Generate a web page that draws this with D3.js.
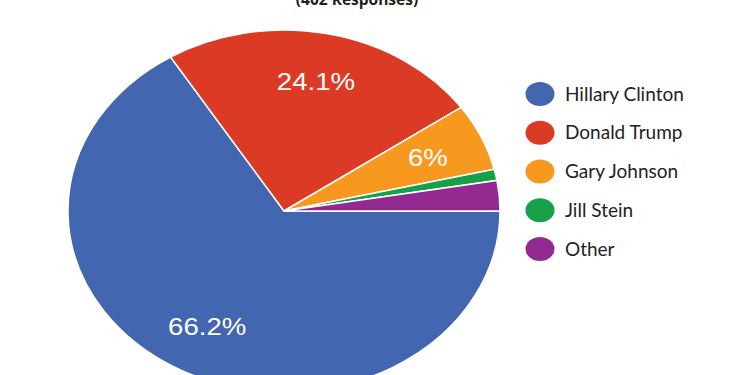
<!DOCTYPE html>
<html><head><meta charset="utf-8">
<script src="https://cdn.jsdelivr.net/npm/d3@7"></script>
<style>body{margin:0;background:#fff;} svg{display:block;}</style>
</head><body>
<svg id="chart" width="750" height="375"></svg>
<script>
const categories = ["Hillary Clinton", "Donald Trump", "Gary Johnson", "Jill Stein", "Other"];
const values = [66.2, 24.1, 6.0, 1.0, 2.7];
const labels = ["66.2%", "24.1%", "6%", "", ""];
const colors = ["#4266b0", "#db3a24", "#f7991f", "#16a04a", "#932a91"];
const titleText = "(402 Responses)";

const svg = d3.select("#chart");
const cx = 284, cy = 211, ry = 181, rx = 216;
const sx = rx / ry;

svg.append("text").attr("x", 357).attr("y", 5)
  .attr("text-anchor", "middle")
  .attr("font-family", "Open Sans, sans-serif").attr("font-weight", "bold")
  .attr("font-size", 15.5).attr("fill", "#222").text(titleText);

const pie = d3.pie().sort(null).value(d => d)
  .startAngle(Math.PI / 2).endAngle(Math.PI / 2 + 2 * Math.PI);
const arcs = pie(values);
const arc = d3.arc().innerRadius(0).outerRadius(ry);

const g = svg.append("g").attr("transform", `translate(${cx},${cy}) scale(${sx},1)`);
g.selectAll("path").data(arcs).join("path")
  .attr("d", arc).attr("fill", (d, i) => colors[i])
  .attr("stroke", "#fff").attr("stroke-width", 1.5)
  .attr("vector-effect", "non-scaling-stroke");

const lab = svg.append("g").attr("transform", `translate(${cx},${cy})`);
lab.selectAll("text").data(arcs).join("text")
  .attr("transform", d => {
    const a = (d.startAngle + d.endAngle) / 2;
    return `translate(${Math.sin(a) * rx * 0.73},${-Math.cos(a) * ry * 0.73}) scale(1.15,1)`;
  })
  .attr("dy", "0.36em").attr("text-anchor", "middle")
  .attr("font-family", "Arial, Liberation Sans, sans-serif").attr("font-size", 24)
  .attr("fill", "#fff").text((d, i) => labels[i]);

const ly = d3.scalePoint().domain(categories).range([94, 249]);
const leg = svg.append("g");
leg.selectAll("ellipse").data(categories).join("ellipse")
  .attr("cx", 540).attr("cy", d => ly(d)).attr("rx", 14.5).attr("ry", 12)
  .attr("fill", (d, i) => colors[i]);
leg.selectAll("text").data(categories).join("text")
  .attr("x", 565).attr("y", d => ly(d)).attr("dy", "0.35em")
  .attr("font-family", "Lato, sans-serif").attr("font-size", 19)
  .attr("fill", "#222").text(d => d);
</script>
</body></html>
